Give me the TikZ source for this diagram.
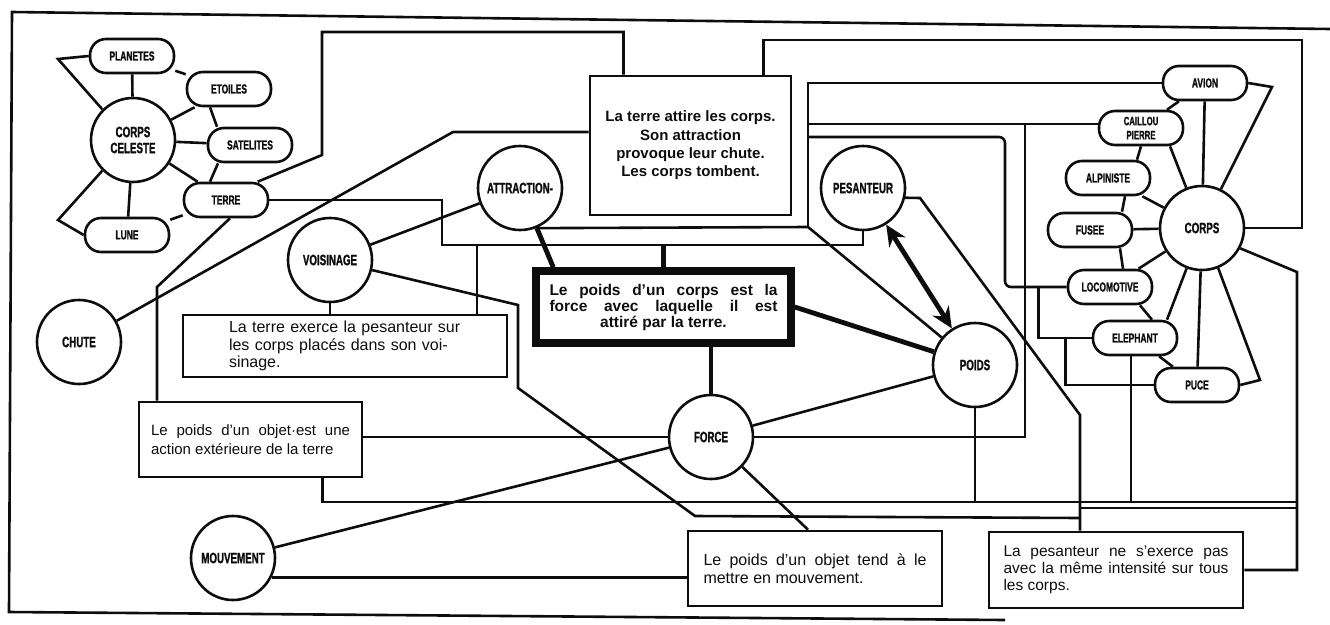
\documentclass[tikz,border=0pt]{standalone}
\usepackage{fontspec}
\setmainfont{Liberation Sans}
\newfontfamily\condfont[FakeStretch=0.65, FakeBold=1.2]{Liberation Sans}
\usepackage{tikz}
\usetikzlibrary{arrows.meta}
\definecolor{ink black}{rgb}{0.05, 0.05, 0.05}

\begin{document}
\begin{tikzpicture}[x = 1pt, y = -1pt, color = ink black,
		concept/.style = {circle, draw, line width = 2.6pt, minimum size = 84pt, inner sep = 0pt,
			align = center, font = \condfont\bfseries\fontsize{15}{16}\selectfont},
		pill/.style = {rectangle, rounded corners = 16pt, draw, line width = 2.6pt, minimum width = 84pt,
			minimum height = 34pt, inner sep = 0pt, align = center, font = \condfont\bfseries\fontsize{13}{14}\selectfont},
		notebox/.style = {rectangle, draw, line width = 2.6pt, inner sep = 0pt, font = \fontsize{15.5}{17.5}\selectfont},
		link/.style = {line width = 2.6pt},
		heavy/.style = {line width = 4.8pt}]
			\useasboundingbox (0, 0) rectangle (1330, 624);
			% outline
			\draw[link] (1330, 29) -- (12, 12) -- (9, 612) -- (1005, 620);
			% concepts
			\node[concept] (cc) at (133, 140) {CORPS\\CELESTE};
			\node[concept] (chute) at (79, 342) {CHUTE};
			\node[concept] (voisin) at (330, 260) {VOISINAGE};
			\node[concept] (attr) at (520, 188) {ATTRACTION-};
			\node[concept] (pesant) at (863, 188) {PESANTEUR};
			\node[concept] (poids) at (975, 365) {POIDS};
			\node[concept] (force) at (711, 437) {FORCE};
			\node[concept] (mouv) at (233, 558) {MOUVEMENT};
			\node[concept] (corps) at (1202, 228) {CORPS};
			% examples
			\node[pill] (planetes) at (132, 56) {PLANETES};
			\node[pill] (etoiles) at (229, 89) {ETOILES};
			\node[pill] (satel) at (250, 145) {SATELITES};
			\node[pill] (terre) at (226, 200) {TERRE};
			\node[pill] (lune) at (127, 235) {LUNE};
			\node[pill] (avion) at (1205, 83) {AVION};
			\node[pill, font = \condfont\bfseries\fontsize{12}{14}\selectfont] (caillou) at (1141, 128) {CAILLOU\\PIERRE};
			\node[pill] (alpin) at (1108, 178) {ALPINISTE};
			\node[pill] (fusee) at (1090, 230) {FUSEE};
			\node[pill] (loco) at (1110, 287) {LOCOMOTIVE};
			\node[pill] (eleph) at (1135, 338) {ELEPHANT};
			\node[pill] (puce) at (1197, 385) {PUCE};
			% statements
			\node[notebox, minimum width = 201pt, minimum height = 139pt, align = center,
				font = \bfseries\fontsize{15}{18.3}\selectfont] (attire) at (690.5, 145.5)
				{La terre attire les corps.\\Son attraction\\provoque leur chute.\\Les corps tombent.};
			\node[notebox, line width = 7.5pt, minimum width = 255pt, minimum height = 72pt, text width = 228pt,
				align = justify, font = \bfseries\fontsize{15.5}{16}\selectfont] (defn) at (663.5, 307)
				{Le poids d’un corps est la\linebreak force avec laquelle il est\linebreak
				\hspace*{\fill}attiré par la terre.\hspace*{\fill}};
			\node[notebox, minimum width = 324pt, minimum height = 62pt, text width = 232pt, align = left,
				font = \fontsize{16}{17.5}\selectfont]
				(exerce) at (345, 346) {La terre exerce la pesanteur sur\\les corps placés dans son voi-\\sinage.};
			\node[notebox, minimum width = 223pt, minimum height = 75pt, text width = 199pt, align = justify,
				font = \fontsize{15}{19}\selectfont] (action) at (250.5, 439.5)
				{Le poids d'un objet·est une\linebreak action extérieure de la terre};
			\node[notebox, minimum width = 254pt, minimum height = 75pt, text width = 223pt, align = justify,
				font = \fontsize{16}{18}\selectfont]
				(tend) at (815, 568.5) {Le poids d'un objet tend à le\linebreak mettre en mouvement.};
			\node[notebox, minimum width = 254pt, minimum height = 76pt, text width = 225pt, align = justify,
				font = \fontsize{15.5}{17}\selectfont] (intens) at (1116, 570)
				{La pesanteur ne s'exerce pas\linebreak avec la même intensité sur tous\linebreak les corps.};
			% bends
			\coordinate (j1) at (477, 245);
			\coordinate (k1) at (453, 132);
			\coordinate (t2) at (157, 287);
			\coordinate (b1) at (808, 227);
			\coordinate (b2) at (808, 124);
			\coordinate (b3) at (808, 137);
			\coordinate (f1) at (1025, 124);
			\coordinate (p3) at (1080, 415);
			\coordinate (r2) at (1297, 502);
			\coordinate (r3) at (1297, 508);
			% part for corps celeste
			\draw[link] (planetes) -- (cc);
			\draw[link] (planetes.west) -- (58, 59) -- (cc.135);
			\draw[link] (planetes) -- (etoiles);
			\draw[link] (etoiles) -- (cc);
			\draw[link] ([xshift = -19pt]etoiles.south) -- ([xshift = -33pt]satel.north);
			\draw[link] (satel) -- (cc);
			\draw[link] ([xshift = -32pt]satel.south) -- ([xshift = -16pt]terre.north);
			\draw[link] (cc) -- (terre);
			\draw[link] (cc) -- (lune);
			\draw[link] (cc.225) -- (58, 220) -- (lune.west);
			\draw[link] (terre) -- (lune);
			% part for terre
			\draw[link] (terre.30) -- (322, 155) -- (322, 32) -| ([xshift = -67pt]attire.north);
			\draw[link] (terre.east) -| (442, 245) -| (pesant.south);
			\draw[link] (j1) -- (j1 |- exerce.north);
			\draw[heavy] (defn.north) -- (defn.north |- j1);
			\draw[link] ([xshift = 4pt]terre.south) -- (t2) -- (t2 |- action.north);
			\draw[link] (chute) -- (k1) -- (k1 -| attire.west);
			% part for voisinage
			\draw[link] (voisin) -- (voisin |- exerce.north);
			\draw[link] (voisin) -- (attr);
			\draw[link] (voisin) -- (518, 305) -- (518, 388) -- (695, 516) -- (1080, 518);
			% part for attraction
			\draw[heavy] (attr) -- ([xshift = 21pt]defn.north west);
			\draw[link] (attr.-68) -- (b1) -- (poids);
			\draw[link] (b1) |- (avion.west);
			\draw[link] (b2) -- (b2 -| caillou.west);
			\draw[link, rounded corners = 6pt] (b3) -- (1005, 137) -- (1005, 287) -- (loco.west);
			% part for force
			\draw[heavy] (force) -- (force |- defn.south);
			\draw[heavy] (defn.east) -- (poids);
			\draw[link] (force) -- (poids);
			\draw[link] (force.east) -| (f1);
			\draw[link] (force.west) -- (force.west -| action.east);
			\draw[link] (force) -- ([xshift = -7pt]tend.north);
			\draw[link] (mouv) -- (force);
			\draw[link] (mouv.-27) -- (mouv.-27 -| tend.west);
			% part for pesanteur
			\draw[heavy, {Stealth[length = 21pt, width = 19pt]}-{Stealth[length = 21pt, width = 19pt]}]
				(pesant) -- (poids);
			\draw[link] (pesant.-13) -- (920, 198) -- (p3) -- (p3 |- intens.north);
			% bottom lines
			\draw[link] ([xshift = 72pt]action.south) |- (r2);
			\draw[link] (poids) -- (poids |- r2);
			\draw[link] ([xshift = -4pt]eleph.south) -- ([xshift = -4pt]eleph.south |- r2);
			\draw[link] (r3) -- (r3 -| p3);
			% part for corps
			\draw[link] (corps.-28) -- (1297, 272) |- (intens.east);
			\draw[link] ([xshift = -29pt]attire.north east) |- (1302, 40) |- (corps.east);
			\draw[link] (avion) -- (corps);
			\draw[link] (avion.east) -- (1272, 87) -- (corps.64);
			\draw[link] (avion) -- (caillou);
			\draw[link] ([xshift = 29pt]caillou.south) -- (corps);
			\draw[link] (caillou.south) -- ([xshift = 29pt]alpin.north);
			\draw[link] (alpin) -- (corps);
			\draw[link] ([xshift = 17pt]alpin.south) -- ([xshift = 32pt]fusee.north);
			\draw[link] (fusee) -- (corps);
			\draw[link] ([xshift = 30pt]fusee.south) -- ([xshift = 13pt]loco.north);
			\draw[link] (loco) -- (corps);
			\draw[link] ([xshift = 30pt]loco.south) -- ([xshift = 17pt]eleph.north);
			\draw[link] (corps) -- ([xshift = 32pt]eleph.north);
			\draw[link] (eleph) -- (puce);
			\draw[link] (corps) -- (puce);
			\draw[link] (corps.-68) -- (1260, 380) -- (puce.east);
			\draw[link] (eleph.west) -| ([xshift = -28pt]loco.west);
			\draw[link] (puce.west) -| ([xshift = -26pt]eleph.west);
		\end{tikzpicture}
\end{document}
